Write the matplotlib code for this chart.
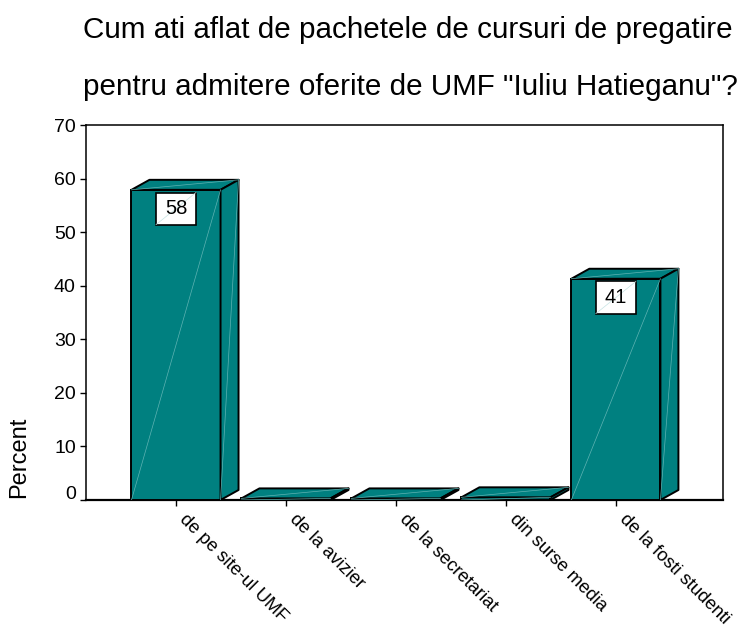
import matplotlib
matplotlib.use('Agg')
import matplotlib.pyplot as plt
from matplotlib.patches import Polygon, Rectangle
from matplotlib.transforms import ScaledTranslation

plt.rcParams['font.family'] = ['Liberation Sans', 'DejaVu Sans']

categories = ['de pe site-ul UMF', 'de la avizier', 'de la secretariat',
              'din surse media', 'de la fosti studenti']
percent = [57.9, 0.3, 0.3, 0.5, 41.3]
shown_labels = {0: '58', 4: '41'}
y_ticks = [0, 10, 20, 30, 40, 50, 60, 70]
title_lines = ['Cum ati aflat de pachetele de cursuri de pregatire',
               'pentru admitere oferite de UMF "Iuliu Hatieganu"?']

TEAL = '#008080'
PALE = '#5fb3b3'

W, H = 739, 626
fig = plt.figure(figsize=(W / 100, H / 100), dpi=100)
ax = fig.add_axes([85.5 / W, (H - 500) / H, (723 - 85.5) / W, (500 - 125) / H])
ax.set_xlim(-0.823, 4.974)
ax.set_ylim(0, 70)

# depth of the fake 3d bars, in data units
bar_w = 0.81
dx = 18 / 110
dy = 10 / (375 / 70)

ax.bar(range(len(percent)), percent, width=bar_w, color=TEAL,
       edgecolor='black', linewidth=1.4, zorder=3)

for i, v in enumerate(percent):
    x0 = i - bar_w / 2
    x1 = i + bar_w / 2
    top = [(x0, v), (x1, v), (x1 + dx, v + dy), (x0 + dx, v + dy)]
    side = [(x1, 0), (x1 + dx, dy), (x1 + dx, v + dy), (x1, v)]
    for pts in (top, side):
        ax.add_patch(Polygon(pts, closed=True, facecolor=TEAL, edgecolor='black',
                             linewidth=1.4, joinstyle='round', zorder=3))
    # thin pale diagonals seen on each face
    ax.plot([x0, x1], [0, v], color=PALE, lw=0.5, zorder=4)
    ax.plot([x1, x1 + dx], [0, v + dy], color=PALE, lw=0.5, zorder=2.9 if v < 1 else 4)
    ax.plot([x0, x1 + dx], [v, v + dy], color=PALE, lw=0.5, zorder=4)

for i, txt in shown_labels.items():
    v = percent[i]
    bx = i - 20 / 110
    by = v - 6.5
    ax.add_patch(Rectangle((bx, by), 40 / 110, 6, facecolor='white',
                           edgecolor='black', linewidth=1.2, zorder=5))
    ax.plot([bx, bx + 40 / 110], [by, by + 6], color='#c5e3e3', lw=0.5, zorder=6)
    ax.text(i, by + 3, txt, ha='center', va='center', fontsize=14.5, zorder=7)

ax.set_yticks(y_ticks)
ax.set_xticks(range(len(categories)))
ax.set_xticklabels(categories, rotation=-45, ha='left', va='top',
                   rotation_mode='anchor', fontsize=13.2)
ax.tick_params(axis='y', labelsize=14, length=4, width=1, pad=3)
ax.tick_params(axis='x', length=4, width=1, pad=4)

# the rotated labels start right of the tick, the zero label sits above its tick
for lab in ax.get_xticklabels():
    lab.set_transform(lab.get_transform() + ScaledTranslation(12 / 100, 0, fig.dpi_scale_trans))
zero = ax.get_yticklabels()[0]
zero.set_transform(zero.get_transform() + ScaledTranslation(0, 7.5 / 100, fig.dpi_scale_trans))

for s in ax.spines.values():
    s.set_linewidth(1.1)
ax.spines['bottom'].set_linewidth(1.6)

fig.text(19 / W, 1 - 457 / H, 'Percent', rotation=90, ha='center', va='center', fontsize=17)
fig.text(83 / W, 1 - 30 / H, title_lines[0], ha='left', va='center', fontsize=21.3)
fig.text(83 / W, 1 - 87 / H, title_lines[1], ha='left', va='center', fontsize=21.3)

fig.savefig('out.png', dpi=100)
